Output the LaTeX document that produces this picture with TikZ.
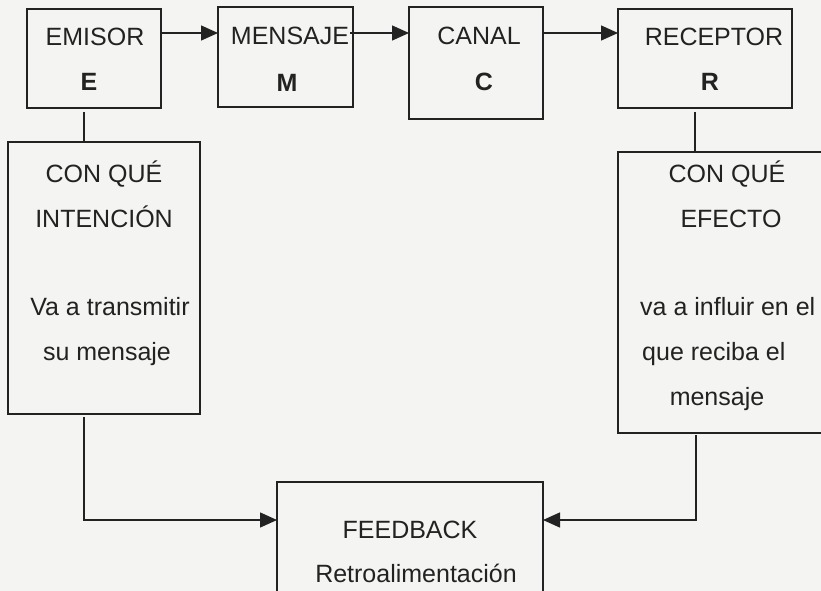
\documentclass[tikz,border=0pt]{standalone}
\usepackage{fontspec}
\setmainfont{Liberation Sans}
\usetikzlibrary{arrows.meta,calc}
\definecolor{ink}{HTML}{222222}
\definecolor{paper}{HTML}{F4F4F2}
\begin{document}
\begin{tikzpicture}[x=1pt,y=-1pt,
  box/.style={draw=ink,line width=1.4pt,inner sep=0pt,outer sep=0pt,anchor=north west},
  txt/.style={text=ink,font=\fontsize{25}{30}\selectfont,inner sep=0pt,anchor=base},
  btxt/.style={text=ink,font=\fontsize{25}{30}\selectfont\bfseries,inner sep=0pt,anchor=base},
  ltxt/.style={txt,anchor=base west},
  conn/.style={draw=ink,line width=1.4pt},
  arr/.style={conn,-{Triangle[length=17pt,width=15pt]}}]
\clip (0,0) rectangle (821,591);
\fill[paper] (0,0) rectangle (821,591);
\useasboundingbox (0,0) rectangle (821,591);

% top boxes
\node[box,minimum width=134pt,minimum height=99pt] (emisor) at (27,9) {};
\node[box,minimum width=135pt,minimum height=100pt] (mensaje) at (218,7) {};
\node[box,minimum width=134pt,minimum height=112pt] (canal) at (409,7) {};
\node[box,minimum width=174pt,minimum height=99pt] (receptor) at (618,9) {};
% tall boxes
\node[box,minimum width=192pt,minimum height=272pt] (intent) at (8,142) {};
\node[box,minimum width=215pt,minimum height=281pt] (efecto) at (618,152) {};
% feedback
\node[box,minimum width=266pt,minimum height=130pt] (fb) at (277,482) {};

% texts
\node[txt] (t1) at (95,46) {EMISOR};
\node[btxt] (t2) at (89,91) {E};
\node[txt] (t3) at (290,45) {MENSAJE};
\node[btxt] (t4) at (287,92) {M};
\node[txt] (t5) at (479,45) {CANAL};
\node[btxt] (t6) at (484,91) {C};
\node[txt] (t7) at (714,46) {RECEPTOR};
\node[btxt] (t8) at (710,91) {R};

\node[txt] (l1) at (104,182) {CON QUÉ};
\node[txt] (l2) at (104,227) {INTENCIÓN};
\node[txt] (l3) at (110,315) {Va a transmitir};
\node[txt] (l4) at (107,360) {su mensaje};

\node[txt] (r1) at (727,182) {CON QUÉ};
\node[txt] (r2) at (731,227) {EFECTO};
\node[ltxt] (r3) at (640,315) {va a influir en el};
\node[ltxt] (r4) at (642,360) {que reciba el};
\node[txt] (r5) at (717,405) {mensaje};

\node[txt] (f1) at (410,538) {FEEDBACK};
\node[txt] (f2) at (416,582) {Retroalimentación};

% connectors
\draw[arr] ([yshift=-24pt]emisor.north east) -- ([yshift=-24pt]emisor.north east -| mensaje.west);
\draw[arr] ([yshift=-26pt,xshift=-3pt]mensaje.north east) -- ([yshift=-26pt]mensaje.north east -| canal.west);
\draw[arr] ([yshift=-26pt]canal.north east) -- ([yshift=-26pt]canal.north east -| receptor.west);

\draw[conn,shorten <=4pt] ([xshift=57pt]emisor.south west) -- ([xshift=57pt]emisor.south west |- intent.north);
\draw[conn,shorten <=4pt] ([xshift=77pt]receptor.south west) -- ([xshift=77pt]receptor.south west |- efecto.north);

\draw[arr,shorten <=3pt] ([xshift=76pt]intent.south west) |- ([yshift=-38pt]fb.north west);
\draw[arr,shorten <=2pt] ([xshift=78pt]efecto.south west) |- ([yshift=-38pt]fb.north east);
\end{tikzpicture}
\end{document}
